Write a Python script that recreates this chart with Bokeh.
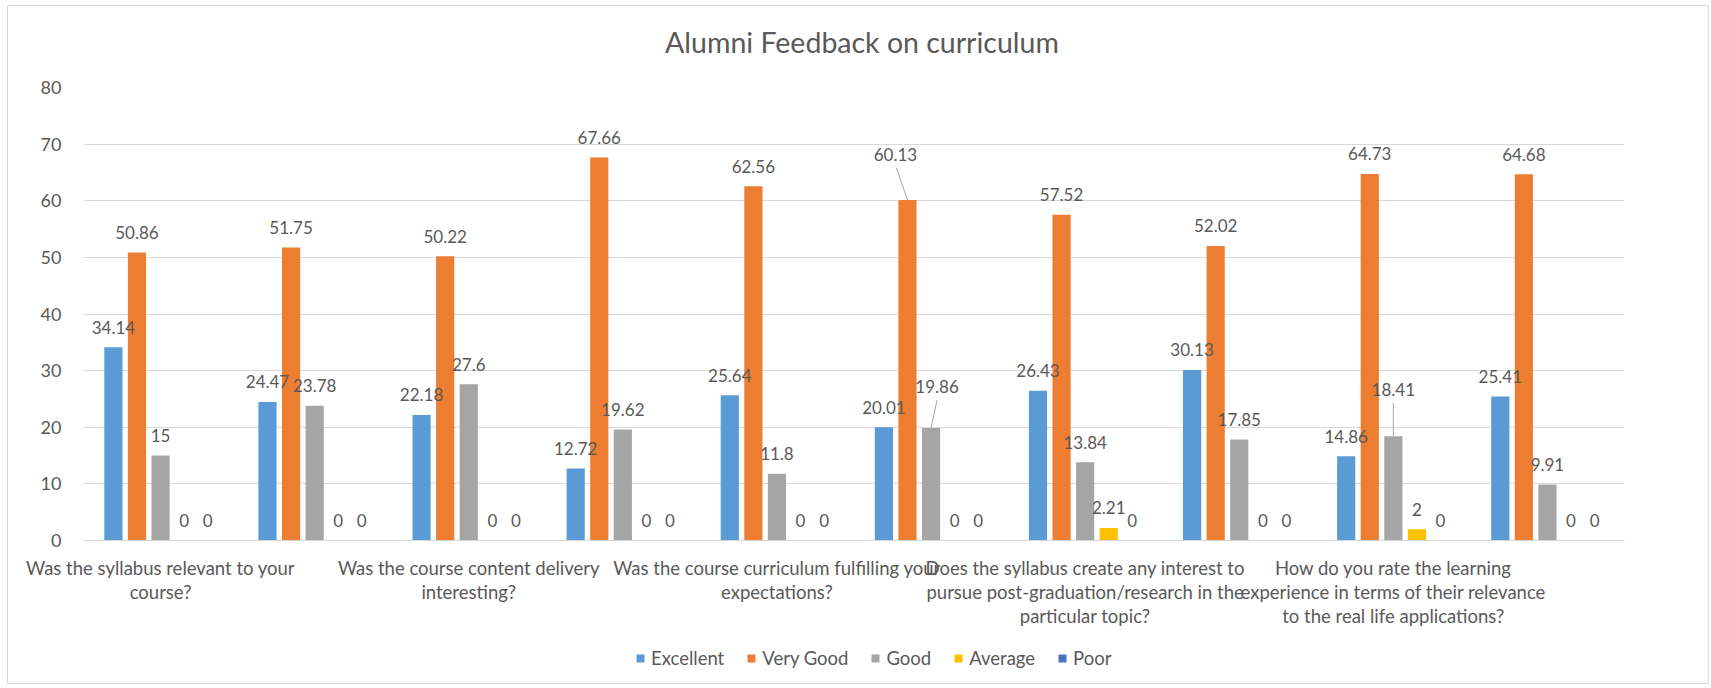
from bokeh.plotting import figure
from bokeh.layouts import column
from bokeh.models import (ColumnDataSource, FixedTicker, Legend, LegendItem,
                          LabelSet, Label, Range1d)
from bokeh.core.properties import value
from bokeh.embed import file_html
from bokeh.resources import INLINE

# ---------------- data ----------------
title_text = "Alumni Feedback on curriculum"
series = ["Excellent", "Very Good", "Good", "Average", "Poor"]
excellent = [34.14, 24.47, 22.18, 12.72, 25.64, 20.01, 26.43, 30.13, 14.86, 25.41]
very_good = [50.86, 51.75, 50.22, 67.66, 62.56, 60.13, 57.52, 52.02, 64.73, 64.68]
good = [15, 23.78, 27.6, 19.62, 11.8, 19.86, 13.84, 17.85, 18.41, 9.91]
average = [0, 0, 0, 0, 0, 0, 2.21, 0, 2, 0]
poor = [0, 0, 0, 0, 0, 0, 0, 0, 0, 0]
values = [excellent, very_good, good, average, poor]
colors = ["#5B9BD5", "#ED7D31", "#A5A5A5", "#FFC000", "#4472C4"]

# the category axis only shows every other question label (as in the original)
shown_labels = [
    "Was the syllabus relevant to your\ncourse?",
    "Was the course content delivery\ninteresting?",
    "Was the course curriculum fulfilling your\nexpectations?",
    "Does the syllabus create any interest to\npursue post-graduation/research in the\nparticular topic?",
    "How do you rate the learning\nexperience in terms of their relevance\nto the real life applications?",
]
n_cat = len(excellent)

# label nudges (pixels) for labels that were moved with leader lines
label_nudge = {("Very Good", 5): (-12, 46), ("Good", 5): (6, 42), ("Good", 8): (0, 47)}
leader_start = {("Very Good", 5): (-11, 32), ("Good", 5): (6, 28), ("Good", 8): (0, 33)}

# ---------------- layout constants ----------------
BL, BR, BT, BB = 75, 84, 15, 95
FW, FH = 1541, 453
TOTAL_W = BL + FW + BR
TITLE_H = 66
LEG_H = 48
TEXT = "#595959"
FONT = "Lato"

# ---------------- title strip ----------------
pt = figure(width=TOTAL_W, height=TITLE_H, output_backend="svg",
            toolbar_location=None, x_range=Range1d(0, 1), y_range=Range1d(0, 1),
            min_border=0)
pt.axis.visible = False
pt.grid.visible = False
pt.outline_line_color = None
pt.border_fill_color = "white"
pt.add_layout(Label(x=0.5, y=0.5, x_offset=8, y_offset=-2, text=title_text,
                    text_align="center", text_baseline="middle",
                    text_font=FONT, text_font_size="28.5px",
                    text_color=TEXT))

# ---------------- main chart ----------------
p = figure(frame_width=FW, frame_height=FH, output_backend="svg",
           toolbar_location=None,
           x_range=Range1d(0, n_cat), y_range=Range1d(0, 80),
           min_border_left=BL, min_border_right=BR, min_border_top=BT,
           min_border_bottom=BB)
p.title = None
p.outline_line_color = None
p.background_fill_color = "white"
p.border_fill_color = "white"

step, bar_w = 0.153, 0.118
px_x = FW / n_cat
px_y = FH / 80.0

sources = []
for k, (name, vals, col) in enumerate(zip(series, values, colors)):
    off = (k - 2) * step
    xs = [i + 0.5 + off for i in range(n_cat)]
    xo = [label_nudge.get((name, i), (0, 20))[0] for i in range(n_cat)]
    yo = [label_nudge.get((name, i), (0, 20))[1] for i in range(n_cat)]
    src = ColumnDataSource(dict(x=xs, top=vals, txt=[f"{v:g}" for v in vals],
                                xo=xo, yo=yo))
    sources.append(src)
    p.vbar(x="x", top="top", width=bar_w, bottom=0, source=src,
           fill_color=col, line_color=None)
    labels = LabelSet(x="x", y="top", text="txt", source=src,
                      x_offset="xo", y_offset="yo",
                      text_align="center", text_baseline="middle",
                      text_font=value(FONT), text_font_size="17px",
                      text_color=TEXT)
    p.add_layout(labels)
    # leader lines
    for i in range(n_cat):
        if (name, i) in leader_start:
            dx, dy = leader_start[(name, i)]
            p.segment(x0=[xs[i] + dx / px_x], y0=[vals[i] + dy / px_y],
                      x1=[xs[i]], y1=[vals[i]], line_color="#A6A6A6",
                      line_width=1)

# axes
p.xaxis.ticker = FixedTicker(ticks=[i + 0.5 for i in range(0, n_cat, 2)])
p.xaxis.major_label_overrides = {i + 0.5: lab for i, lab in
                                 zip(range(0, n_cat, 2), shown_labels)}
p.xaxis.major_tick_line_color = None
p.xaxis.minor_tick_line_color = None
p.xaxis.axis_line_color = "#D9D9D9"
p.xaxis.major_label_text_font = FONT
p.xaxis.major_label_text_font_size = "18.5px"
p.xaxis.major_label_text_color = TEXT
p.xaxis.major_label_text_line_height = 1.1
p.xaxis.major_label_standoff = 10

p.yaxis.ticker = FixedTicker(ticks=list(range(0, 81, 10)))
p.yaxis.major_tick_line_color = None
p.yaxis.minor_tick_line_color = None
p.yaxis.axis_line_color = None
p.yaxis.major_label_text_font = FONT
p.yaxis.major_label_text_font_size = "18px"
p.yaxis.major_label_text_color = TEXT
p.yaxis.major_label_standoff = 16

p.xgrid.visible = False
p.ygrid.grid_line_color = "#D9D9D9"
p.ygrid.grid_line_width = 1

# ---------------- legend strip ----------------
pl = figure(width=TOTAL_W, height=LEG_H, output_backend="svg",
            toolbar_location=None, x_range=Range1d(0, 1), y_range=Range1d(0, 1),
            min_border=0)
pl.axis.visible = False
pl.grid.visible = False
pl.outline_line_color = None
pl.border_fill_color = "white"
leg_items = []
for name, col, src in zip(series, colors, sources):
    rr = pl.vbar(x="x", top="top", width=bar_w, source=src,
                 fill_color=col, line_color=None)
    rr.visible = False
    leg_items.append(LegendItem(label=name, renderers=[rr]))
legend = Legend(items=leg_items, orientation="horizontal",
                location=(552, 14),
                glyph_width=10, glyph_height=10, label_standoff=6, spacing=22,
                padding=0, margin=0, border_line_color=None,
                background_fill_alpha=0, label_text_font=FONT,
                label_text_font_size="18.5px", label_text_color=TEXT,
                label_height=20, click_policy="none")
pl.add_layout(legend)

layout = column(pt, p, pl, spacing=0)
layout.styles = {"margin-left": "7px", "margin-top": "5px",
                 "border": "1px solid #D9D9D9"}

open("out.html", "w").write(file_html(layout, INLINE))
